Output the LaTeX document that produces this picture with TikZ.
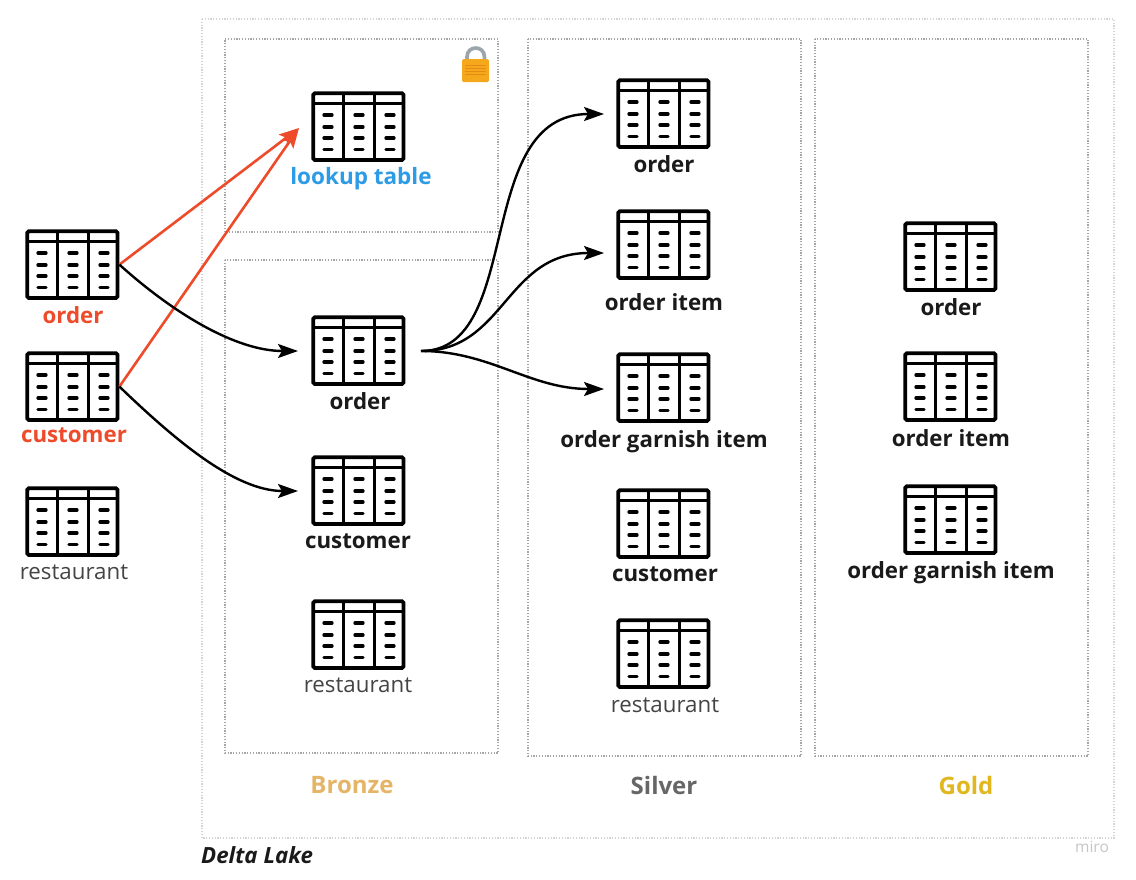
\documentclass[tikz,border=0pt]{standalone}
\usepackage{fontspec}
\setmainfont{Open Sans}
\usetikzlibrary{arrows.meta}
\definecolor{redc}{HTML}{EE4B2B}
\definecolor{bluec}{HTML}{2D9BE6}
\definecolor{bronzec}{HTML}{E5B567}
\definecolor{silverc}{HTML}{666666}
\definecolor{goldc}{HTML}{E2B71E}
\definecolor{txt}{HTML}{1A1A1A}
\definecolor{lightt}{HTML}{444444}
\definecolor{zoneg}{HTML}{A6A6A6}
\definecolor{outerg}{HTML}{D4D4D4}
\definecolor{lockbody}{HTML}{F5A81C}
\definecolor{lockline}{HTML}{E58A12}
\definecolor{lockbar}{HTML}{9AA6AC}
\tikzset{
  x=1pt,y=-1pt,
  zone/.style={draw=zoneg,line width=1.2pt,dash pattern=on 1.2pt off 1.6pt},
  outerzone/.style={draw=outerg,line width=1.2pt,dash pattern=on 1.2pt off 1.6pt},
  tablebox/.style={draw=black,line width=3.8pt,rounded corners=1.5pt,minimum width=90.2pt,minimum height=66.6pt,inner sep=0pt,outer sep=1.9pt},
  tline/.style={draw=black,line width=3.4pt},
  tdash/.style={draw=black,line width=3.3pt,line cap=round},
  lab/.style={font=\fontsize{22.3}{26}\selectfont\bfseries,text=txt,inner sep=0pt,anchor=center},
  labl/.style={font=\fontsize{22.3}{26}\selectfont,text=lightt,inner sep=0pt,anchor=center},
  ttl/.style={font=\fontsize{24}{28}\selectfont\bfseries,inner sep=0pt,anchor=center},
  redarrow/.style={draw=redc,line width=2.6pt,-{Stealth[length=20pt,width=14pt,inset=4pt]}},
  blackarrow/.style={draw=black,line width=2.4pt,-{Stealth[length=20pt,width=14pt,inset=4pt]}},
}
\newcommand{\tabl}[3]{%
  \node[tablebox,anchor=north west] (#1) at (#2-0.6,#3-0.6) {};
  \draw[tline] (#2+31.7,#3+2) -- (#2+31.7,#3+68);
  \draw[tline] (#2+62.3,#3+2) -- (#2+62.3,#3+68);
  \draw[tline] (#2+2,#3+11.5) -- (#2+92,#3+11.5);
  \foreach \cx in {16,47,78} \foreach \cy in {23,35,46,57.7}
    \draw[tdash] (#2+\cx-4,#3+\cy) -- (#2+\cx+4,#3+\cy);
}
\begin{document}
\begin{tikzpicture}
\useasboundingbox (0,0) rectangle (1136,879);
\fill[white] (0,0) rectangle (1136,879);
% zones
\draw[outerzone] (202,19) rectangle (1114,838);
\draw[zone] (225,232) -- (225,39) -- (498,39) -- (498,232) -- cycle;
\draw[zone] (225,260) rectangle (498,753);
\draw[zone] (528,39) rectangle (801,756);
\draw[zone] (815,39) rectangle (1088,756);
% padlock
\draw[draw=lockbar,line width=3.6pt] (467,60) -- (467,57) .. controls (467,45) and (484.5,45) .. (484.5,57) -- (484.5,60);
\fill[lockbody,rounded corners=1.5pt] (462,59) rectangle (489,82);
\foreach \ly in {65,68,71,74}
  \draw[lockline,line width=0.7pt] (465,\ly) -- (486,\ly);
% tables
\tabl{srcorder}{26}{230}
\tabl{srccust}{26}{352}
\tabl{srcrest}{26}{487}
\tabl{lookup}{312}{92}
\tabl{brorder}{312}{316}
\tabl{brcust}{312}{456}
\tabl{brrest}{312}{600}
\tabl{siorder}{617}{79}
\tabl{siitem}{617}{210}
\tabl{sigarn}{617}{353}
\tabl{sicust}{617}{489}
\tabl{sirest}{617}{619}
\tabl{goorder}{904}{222}
\tabl{goitem}{904}{352}
\tabl{gogarn}{904}{485}
% labels
\node[lab,text=redc] (lsrcorder) at (73,315) {order};
\node[lab,text=redc] (lsrccust) at (74,435) {customer};
\node[labl] (lsrcrest) at (74,572.5) {restaurant};
\node[lab,text=bluec,font=\fontsize{22.5}{26}\selectfont\bfseries] (llookup) at (361,179) {lookup table};
\node[lab] (lbrorder) at (360,401) {order};
\node[lab] (lbrcust) at (358,541.5) {customer};
\node[labl] (lbrrest) at (358,685.5) {restaurant};
\node[lab] (lsiorder) at (664,164) {order};
\node[lab] (lsiitem) at (664,302) {order item};
\node[lab] (lsigarn) at (664,441.5) {order garnish item};
\node[lab] (lsicust) at (665,574.5) {customer};
\node[labl] (lsirest) at (665,705.5) {restaurant};
\node[lab] (lgoorder) at (951,307) {order};
\node[lab] (lgoitem) at (951,438) {order item};
\node[lab] (lgogarn) at (951,572.5) {order garnish item};
\node[ttl,text=bronzec] (tbronze) at (352,785) {Bronze};
\node[ttl,text=silverc] (tsilver) at (664,785) {Silver};
\node[ttl,text=goldc] (tgold) at (966,785) {Gold};
\node[font=\fontsize{22.3}{26}\selectfont\bfseries\itshape,text=txt,inner sep=0pt,anchor=west] (tdelta) at (201,855) {Delta Lake};
\node[font=\fontsize{15.5}{18}\selectfont,text=gray!45,inner sep=0pt] (tmiro) at (1092,847) {miro};
% connector ends
\coordinate (tolookup) at (299,128);
\coordinate (tobrorder) at (298,351);
\coordinate (tobrcust) at (298,491);
\coordinate (fromorder) at (421,351);
\coordinate (tosi1) at (604,114);
\coordinate (tosi2) at (604,253);
\coordinate (tosi3) at (604,389);
% connectors
\draw[redarrow] (srcorder.east) -- (tolookup);
\draw[redarrow] (srccust.east) -- (tolookup);
\draw[blackarrow] (srcorder.east) .. controls (172,312) and (235,351) .. (tobrorder);
\draw[blackarrow] (srccust.east) .. controls (175,440) and (235,491) .. (tobrcust);
\draw[blackarrow] (fromorder) .. controls (525,351) and (472,114) .. (tosi1);
\draw[blackarrow] (fromorder) .. controls (505,351) and (505,253) .. (tosi2);
\draw[blackarrow] (fromorder) .. controls (490,351) and (530,389) .. (tosi3);
\end{tikzpicture}
\end{document}
